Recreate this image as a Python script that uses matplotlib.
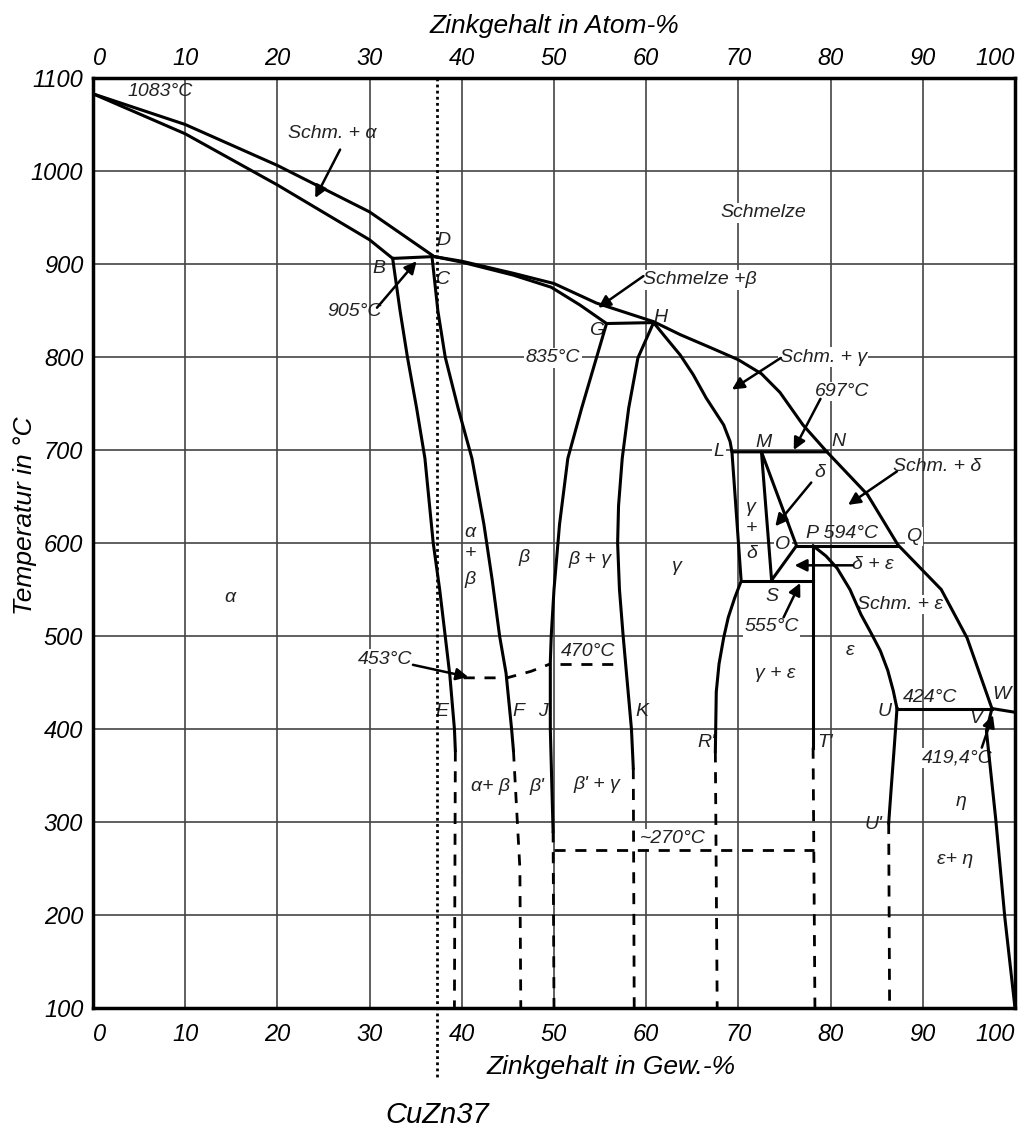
"""Cu-Zn Zustandsdiagramm (Messing) mit CuZn37-Markierung."""

import matplotlib.pyplot as plt

plt.rcParams['font.family'] = ['Liberation Sans Narrow', 'Liberation Sans', 'DejaVu Sans']
plt.rcParams['font.style'] = 'italic'

# x-axis ticks (Zn wt-% bottom, at-% top) and temperature ticks
x_ticks = [0, 10, 20, 30, 40, 50, 60, 70, 80, 90, 100]
t_ticks = [100, 200, 300, 400, 500, 600, 700, 800, 900, 1000, 1100]

# phase boundaries, Zn in wt-% / temperature in °C
liquidus_x = [0, 10, 20, 30, 37.0, 40, 45.6, 50, 54.6, 60.8, 63.7, 67, 70, 72.5, 74.5, 77, 79.6, 84, 87.3, 92, 94.8, 97.5, 100]
liquidus_t = [1083, 1050, 1006, 956, 908, 903, 890, 879, 858, 838, 824, 810, 797, 782, 762, 727, 698, 652, 598, 550, 498, 422, 418]

alpha_sol_x = [0, 10, 20, 30, 32.5, 37.0]
alpha_sol_t = [1083, 1040, 985, 926, 906, 908]

alpha_solvus_x = [32.5, 33.3, 34.1, 35.1, 36.0, 36.9, 37.6, 38.2, 38.7, 39.2, 39.3]
alpha_solvus_t = [906, 850, 800, 745, 691, 600, 550, 500, 458, 400, 377]

beta_left_x = [36.8, 37.4, 38.2, 39.6, 41.1, 42.4, 43.3, 44.1, 44.8, 45.4, 45.6]
beta_left_t = [905, 850, 800, 745, 691, 620, 560, 500, 460, 400, 377]

beta_sol_x = [37.0, 40, 45.6, 49.7, 52.8, 55.7, 60.8]
beta_sol_t = [908, 902, 888, 875, 856, 836, 837]

beta_right_x = [55.7, 54.6, 53.0, 51.5, 50.6, 50.0, 49.7, 49.6, 49.6, 49.9]
beta_right_t = [836, 799, 745, 691, 620, 550, 500, 472, 400, 290]

gamma_left_x = [60.8, 59.1, 58.1, 57.4, 57.0, 56.9, 57.1, 57.5, 58.4, 58.6]
gamma_left_t = [837, 799, 745, 691, 640, 600, 550, 500, 400, 358]

gamma_sol_x = [60.8, 62.2, 63.7, 65.1, 66.5, 68.4, 69.1, 69.3, 79.6]
gamma_sol_t = [837, 820, 802, 781, 756, 727, 709, 698, 698]

gamma_right_x = [69.3, 70.3, 69.6, 68.9, 68.4, 67.9, 67.6, 67.5]
gamma_right_t = [698, 559, 541, 520, 498, 470, 440, 376]

delta_x = [73.6, 72.5, 76.3, 73.6]
delta_t = [560, 698, 597, 560]

peri_594_x = [76.3, 87.3]
peri_594_t = [597, 597]

eut_555_x = [70.3, 78.1]
eut_555_t = [559, 559]

eps_left_x = [78.1, 78.1]
eps_left_t = [597, 380]

eps_sol_x = [78.1, 79.5, 80.7, 82.1, 83.3, 84.4, 85.4, 86.2, 86.8, 87.2]
eps_sol_t = [597, 586, 573, 550, 523, 503, 484, 463, 441, 422]

peri_424_x = [87.2, 97.5]
peri_424_t = [422, 422]

eps_right_x = [87.2, 86.9, 86.6, 86.3]
eps_right_t = [422, 380, 340, 299]

eta_x = [97.5, 96.9, 97.9, 98.9, 100]
eta_t = [422, 398, 304, 197, 100]

# dashed (uncertain / low temperature) lines
dashed_lines = [
    ([39.3, 39.2], [377, 100]),
    ([45.6, 46.3, 46.4], [377, 250, 100]),
    ([49.9, 50.0], [290, 100]),
    ([58.6, 58.7], [358, 100]),
    ([67.5, 67.7], [376, 100]),
    ([78.1, 78.3], [380, 100]),
    ([86.3, 86.4], [299, 100]),
    ([50.0, 78.2], [270, 270]),
    ([50.6, 57.3], [470, 470]),
    ([40.2, 44.9, 47.5, 49.6], [455, 455, 462, 470]),
]

cuzn37_x = 37.3

# labels: text, x, T, white background
labels = [
    ('1083°C', 7.3, 1086, False),
    ('Schm. + α', 26.0, 1040, False),
    ('D', 38.0, 925, False),
    ('B', 31.0, 895, False),
    ('C', 38.0, 883, False),
    ('905°C', 28.4, 849, False),
    ('Schmelze', 72.7, 955, True),
    ('Schmelze +β', 65.8, 883, True),
    ('G', 54.6, 829, False),
    ('H', 61.5, 843, False),
    ('835°C', 49.9, 799, True),
    ('Schm. + γ', 79.2, 800, True),
    ('697°C', 81.3, 763, True),
    ('L', 67.9, 698, True),
    ('M', 72.7, 708, False),
    ('N', 80.8, 709, False),
    ('δ', 78.8, 676, False),
    ('Schm. + δ', 91.5, 682, False),
    ('γ', 71.4, 638, False),
    ('+', 71.4, 616, False),
    ('δ', 71.4, 589, False),
    ('O', 74.8, 598, True),
    ('P 594°C', 81.2, 610, False),
    ('Q', 89.0, 607, True),
    ('δ + ε', 84.6, 577, True),
    ('S', 73.6, 543, False),
    ('555°C', 73.6, 510, True),
    ('Schm. + ε', 87.5, 534, True),
    ('ε', 82.1, 484, False),
    ('γ + ε', 74.0, 460, False),
    ('424°C', 90.8, 434, False),
    ('U', 85.9, 419, False),
    ('W', 98.5, 437, False),
    ('V', 95.8, 411, False),
    ('419,4°C', 93.7, 369, True),
    ("R'", 66.5, 385, False),
    ("T'", 79.4, 385, False),
    ("U'", 84.6, 297, False),
    ('η', 94.2, 322, False),
    ('ε+ η', 93.5, 260, False),
    ('α', 14.9, 541, False),
    ('α', 40.9, 611, False),
    ('+', 40.9, 589, False),
    ('β', 40.9, 561, False),
    ('β', 46.7, 584, False),
    ('β + γ', 53.9, 582, False),
    ('γ', 63.3, 575, False),
    ('453°C', 31.7, 475, True),
    ('470°C', 53.7, 483, False),
    ('E', 37.8, 419, False),
    ('F', 46.1, 419, False),
    ('J', 48.8, 419, False),
    ('K', 59.5, 419, False),
    ('α+ β', 43.1, 338, False),
    ("β'", 48.1, 338, False),
    ("β' + γ", 54.6, 340, False),
    ('~270°C', 62.9, 282, True),
]

# arrows: (from x, from T) -> (to x, to T)
arrows = [
    ((26.8, 1023), (24.1, 971)),
    ((30.8, 853), (35.1, 903)),
    ((59.7, 887), (54.8, 853)),
    ((74.6, 799), (69.3, 765)),
    ((78.9, 755), (76.0, 700)),
    ((77.9, 665), (74.0, 618)),
    ((87.2, 677), (81.9, 641)),
    ((82.4, 576), (76.1, 576)),
    ((74.9, 520), (76.7, 557)),
    ((96.4, 380), (97.6, 415)),
    ((34.7, 469), (40.7, 456)),
]

fig = plt.figure(figsize=(10.32, 11.33), dpi=100)
ax = fig.add_axes([93 / 1032, 1 - 1008 / 1133, 922 / 1032, 930 / 1133])
ax.set_xlim(0, 100)
ax.set_ylim(100, 1100)

ax.set_xticks(x_ticks)
ax.set_yticks(t_ticks)
ax.tick_params(length=0, labelsize=17)
ax.tick_params(axis='x', pad=11)
ax.tick_params(axis='y', pad=7)
ax.grid(True, color='#444444', lw=1.2, zorder=0)
ax.set_axisbelow(True)
for sp in ax.spines.values():
    sp.set_linewidth(2.5)

ax.set_xlabel('Zinkgehalt in Gew.-%', fontsize=19)
ax.xaxis.set_label_coords(0.562, -0.0636)
ax.xaxis.label.set_va('center')
ax.set_ylabel('Temperatur in °C', fontsize=19)
ax.yaxis.set_label_coords(-0.0738, 0.529)
ax.yaxis.label.set_va('center')

top = ax.twiny()
top.set_xlim(0, 100)
top.set_xticks(x_ticks)
top.tick_params(length=0, labelsize=17, pad=6)
top.set_xlabel('Zinkgehalt in Atom-%', fontsize=19, labelpad=10)

# keep the "100" labels inside the figure
for lab in (ax.get_xticklabels()[-1], top.get_xticklabels()[-1]):
    lab.set_ha('right')
for lab in (ax.get_xticklabels()[0], top.get_xticklabels()[0]):
    lab.set_ha('left')

solid = [
    (liquidus_x, liquidus_t), (alpha_sol_x, alpha_sol_t),
    (alpha_solvus_x, alpha_solvus_t), (beta_left_x, beta_left_t),
    (beta_sol_x, beta_sol_t), (beta_right_x, beta_right_t),
    (gamma_left_x, gamma_left_t), (gamma_sol_x, gamma_sol_t),
    (gamma_right_x, gamma_right_t), (delta_x, delta_t),
    (peri_594_x, peri_594_t), (eut_555_x, eut_555_t),
    (eps_left_x, eps_left_t), (eps_sol_x, eps_sol_t),
    (peri_424_x, peri_424_t), (eps_right_x, eps_right_t),
    (eta_x, eta_t),
]
for xs, ts in solid:
    ax.plot(xs, ts, color='black', lw=2.2, zorder=4, solid_joinstyle='round')

for xs, ts in dashed_lines:
    ax.plot(xs, ts, color='black', lw=2.0, ls=(0, (4, 3.5)), zorder=4)

# CuZn37 marker line, reaching below the axes
ax.plot([cuzn37_x, cuzn37_x], [1100, 25], color='black', lw=2.0, ls=(0, (1, 1.2)),
        clip_on=False, zorder=5)
ax.text(cuzn37_x, -15, 'CuZn37', fontsize=21, ha='center', va='center')

for txt, x, t, bg in labels:
    kw = {}
    if bg:
        kw['bbox'] = dict(fc='white', ec='none', pad=1)
    ax.text(x, t, txt, fontsize=14, ha='center', va='center', color='#222222',
            zorder=3, **kw)

for (x0, t0), (x1, t1) in arrows:
    ax.annotate('', xy=(x1, t1), xytext=(x0, t0),
                arrowprops=dict(arrowstyle='-|>', color='black', lw=1.8,
                                mutation_scale=18, shrinkA=0, shrinkB=0),
                zorder=5)

fig.savefig('out.png', dpi=100)
